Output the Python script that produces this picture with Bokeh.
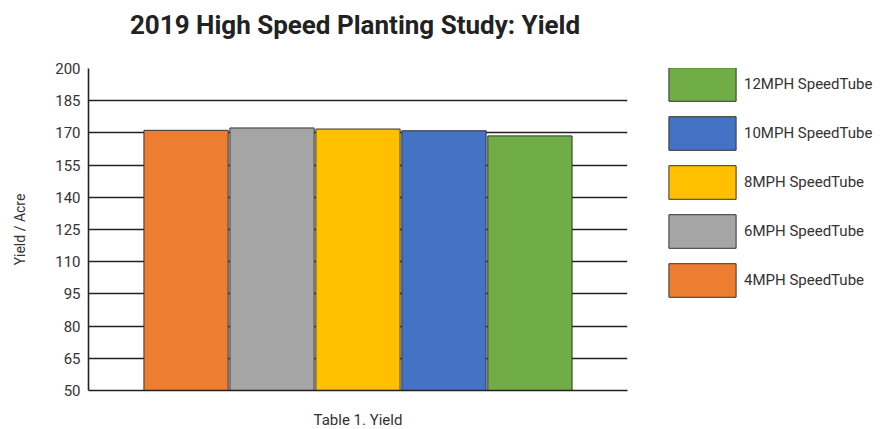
from bokeh.plotting import figure
from bokeh.layouts import row, column
from bokeh.models import (FactorRange, Range1d, FixedTicker, Legend, LegendItem,
                          ColumnDataSource, Div)
from bokeh.embed import file_html
from bokeh.resources import INLINE

title_text = "2019 High Speed Planting Study: Yield"
categories = ["4MPH SpeedTube", "6MPH SpeedTube", "8MPH SpeedTube",
              "10MPH SpeedTube", "12MPH SpeedTube"]
yields = [171.2, 172.3, 171.8, 171.0, 168.6]
colors = ["#ED7D31", "#A5A5A5", "#FFC000", "#4472C4", "#70AD47"]
y_ticks = [50, 65, 80, 95, 110, 125, 140, 155, 170, 185, 200]

FONT = "Roboto"
TOP = 40
BT = 18          # top border of the plot under the title block
BB = 39          # bottom border of the plot
H = BT + 324 + BB

title = Div(text=title_text, width=700, height=TOP,
            styles={"font-family": FONT, "font-weight": "bold",
                    "font-size": "26px", "color": "#222222",
                    "text-align": "center", "width": "700px",
                    "line-height": "40px"})

p = figure(width=640, height=H, output_backend="svg", toolbar_location=None,
           x_range=FactorRange(factors=categories, range_padding=0.254),
           y_range=Range1d(50, 200),
           min_border_left=88, min_border_right=13, min_border_top=BT,
           min_border_bottom=BB)

p.outline_line_color = None
p.background_fill_color = "white"
p.border_fill_color = "white"

renderers = []
for cat, val, col in zip(categories, yields, colors):
    src = ColumnDataSource(dict(x=[cat], top=[val]))
    r = p.vbar(x="x", top="top", bottom=50, width=0.98, source=src,
               fill_color=col, line_color="#333333", line_width=1)
    renderers.append(r)

# y axis
p.yaxis.ticker = FixedTicker(ticks=y_ticks)
p.yaxis.axis_label = "Yield / Acre"
p.yaxis.axis_label_text_font = FONT
p.yaxis.axis_label_text_font_style = "normal"
p.yaxis.axis_label_text_font_size = "14px"
p.yaxis.axis_label_text_color = "#333333"
p.yaxis.axis_label_standoff = 24
p.yaxis.major_label_text_font = FONT
p.yaxis.major_label_text_font_size = "15px"
p.yaxis.major_label_text_color = "#333333"
p.yaxis.major_label_standoff = 8
p.yaxis.major_tick_out = 0
p.yaxis.major_tick_in = 0
p.yaxis.minor_tick_out = 0
p.yaxis.minor_tick_in = 0
p.yaxis.axis_line_color = "#222222"
p.yaxis.axis_line_width = 1.6

# x axis
p.xaxis.axis_label = "Table 1. Yield"
p.xaxis.axis_label_text_font = FONT
p.xaxis.axis_label_text_font_style = "normal"
p.xaxis.axis_label_text_font_size = "15px"
p.xaxis.axis_label_text_color = "#333333"
p.xaxis.axis_label_standoff = 20
p.xaxis.major_label_text_font_size = "0px"
p.xaxis.major_label_standoff = 0
p.xaxis.major_tick_out = 0
p.xaxis.major_tick_in = 0
p.xaxis.axis_line_color = "#222222"
p.xaxis.axis_line_width = 1.6

# grid
p.xgrid.grid_line_color = None
p.ygrid.ticker = FixedTicker(ticks=y_ticks)
p.ygrid.grid_line_color = "#222222"
p.ygrid.grid_line_width = 1.3

# legend panel (separate figure, right side)
lg = figure(width=238, height=H, output_backend="svg", toolbar_location=None,
            x_range=categories, y_range=Range1d(0, 1),
            x_axis_location=None, y_axis_location=None,
            min_border_left=0, min_border_right=0, min_border_top=0,
            min_border_bottom=0)
lg.outline_line_color = None
lg.xgrid.grid_line_color = None
lg.ygrid.grid_line_color = None
lg_renderers = []
for cat, col in zip(categories, colors):
    src = ColumnDataSource(dict(x=[cat], top=[float("nan")]))
    r = lg.vbar(x="x", top="top", bottom=float("nan"), width=0.9, source=src,
                fill_color=col, line_color="#333333", line_width=1)
    lg_renderers.append(r)

# top-to-bottom: 12, 10, 8, 6, 4
items = [LegendItem(label=cat, renderers=[r])
         for cat, r in reversed(list(zip(categories, lg_renderers)))]
legend = Legend(items=items, location=(20, 89), orientation="vertical",
                glyph_width=84, glyph_height=42, spacing=7,
                label_standoff=0, label_text_font=FONT,
                label_text_font_size="15px", label_text_color="#333333",
                label_height=42, padding=0, margin=0,
                border_line_color=None, background_fill_alpha=0)
lg.add_layout(legend, "center")

layout = column(title, row(p, lg, spacing=0), spacing=0)
open("out.html", "w").write(file_html(layout, INLINE))
